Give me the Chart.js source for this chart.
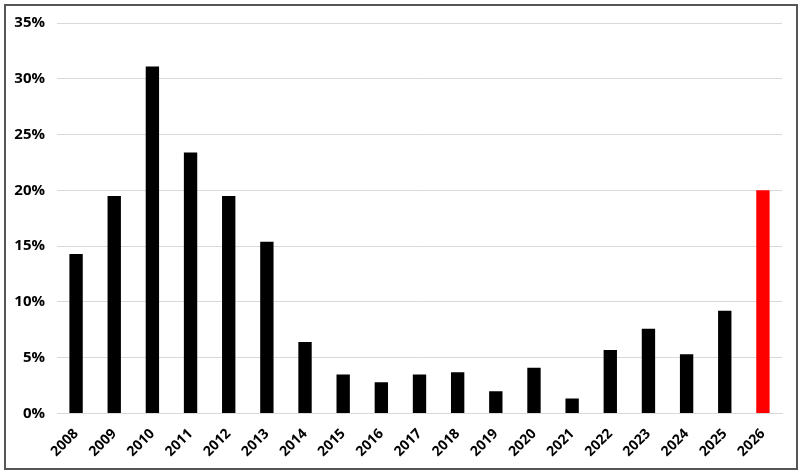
<!DOCTYPE html>
<html>
<head>
<meta charset="utf-8">
<script src="https://cdn.jsdelivr.net/npm/chart.js@4"></script>
<style>
  html, body { margin: 0; padding: 0; background: #fff; }
  #box {
    position: absolute; left: 4px; top: 4px;
    width: 790px; height: 462px;
    border: 2px solid #555;
    background: #fff;
  }
  #wrap { position: absolute; left: 0; top: -4px; width: 790px; height: 462px; }
</style>
</head>
<body>
<div id="box"><div id="wrap"><canvas id="myChart"></canvas></div></div>
<script>
const years = ['2008', '2009', '2010', '2011', '2012', '2013', '2014', '2015', '2016', '2017',
    '2018', '2019', '2020', '2021', '2022', '2023', '2024', '2025', '2026'];

const values = [14.3, 19.5, 31.1, 23.4, 19.5, 15.4, 6.4, 3.5, 2.8, 3.5,
    3.7, 2.0, 4.1, 1.35, 5.7, 7.6, 5.3, 9.2, 20.0];

const barColors = years.map(y => y === '2026' ? '#ff0000' : '#000000');

Chart.defaults.font.family = "'Open Sans', 'Liberation Sans', sans-serif";

const data = {
    labels: years,
    datasets: [{
        data: values,
        backgroundColor: barColors,
        borderWidth: 0,
        barPercentage: 0.35,
        categoryPercentage: 1.0
    }]
};

const config = {
    type: 'bar',
    data: data,
    options: {
        responsive: true,
        maintainAspectRatio: false,
        animation: false,
        layout: { padding: { left: 0, right: 14, top: 2, bottom: 0 } },
        plugins: {
            legend: { display: false },
            tooltip: { enabled: false }
        },
        scales: {
            x: {
                grid: { display: false },
                border: { color: '#d9d9d9', width: 1 },
                ticks: {
                    color: '#000',
                    font: { size: 14, weight: 'bold' },
                    maxRotation: 45,
                    minRotation: 45,
                    padding: 4
                }
            },
            y: {
                min: 0,
                max: 35,
                afterFit: (axis) => { axis.width = 51; },
                grid: { color: '#d9d9d9', lineWidth: 1, drawTicks: false },
                border: { display: false },
                ticks: {
                    stepSize: 5,
                    color: '#000',
                    padding: 12,
                    font: { size: 15, weight: 'bold' },
                    callback: (v) => v + '%'
                }
            }
        }
    }
};

new Chart(document.getElementById('myChart'), config);
</script>
</body>
</html>
